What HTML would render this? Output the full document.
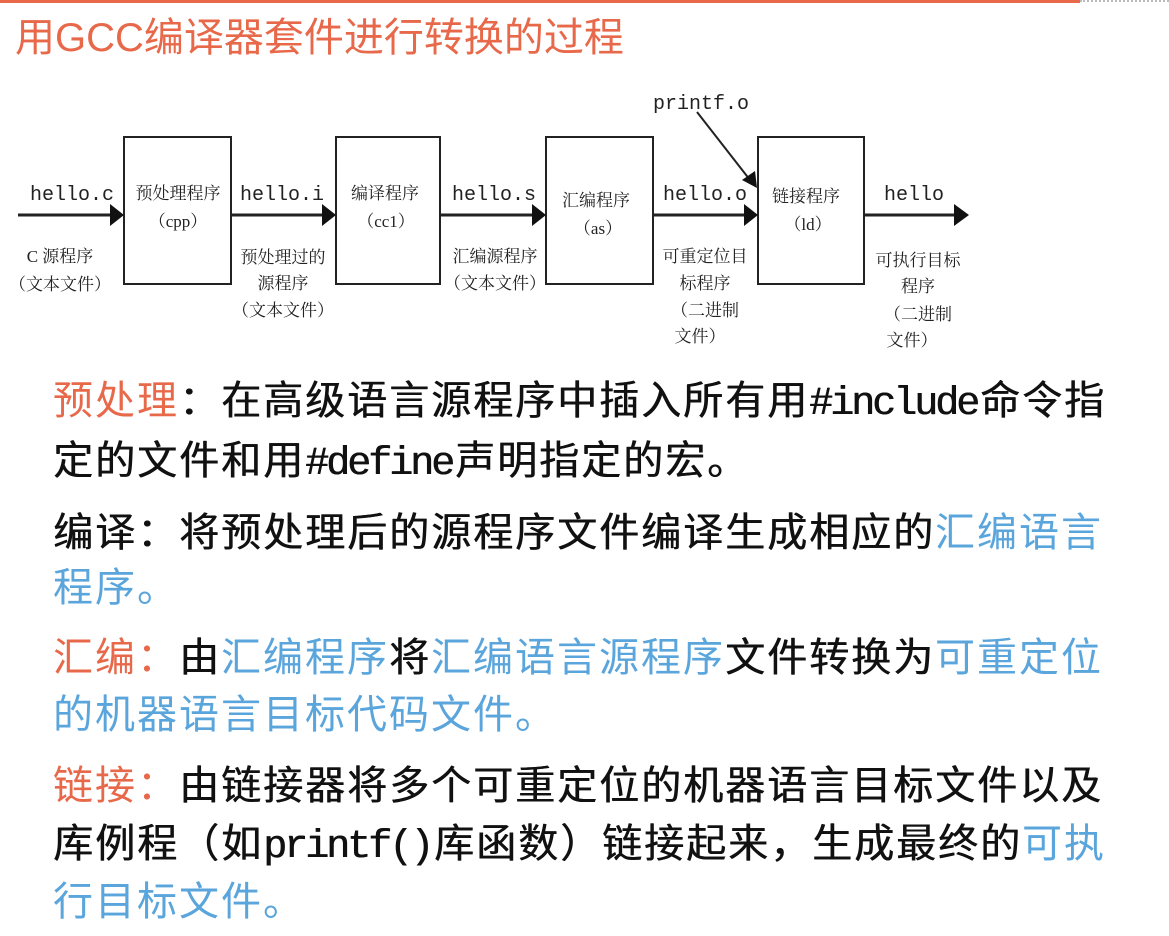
<!DOCTYPE html>
<html><head><meta charset="utf-8"><style>
body{margin:0;width:1169px;height:936px;background:#fff;position:relative;overflow:hidden}
.topbar{position:absolute;left:0;top:0;width:1080px;height:3px;background:#e8684a}
.dots{position:absolute;left:1080px;top:0;width:89px;border-top:2px dotted #bbb}
.title{position:absolute;left:15px;top:11px;font:40px/54px "Liberation Sans","Noto Sans CJK SC",sans-serif;color:#e8684a;white-space:nowrap}
.ln{position:absolute;left:53px;font-size:40px;line-height:50px;letter-spacing:2px;white-space:nowrap;color:#111;font-family:"Liberation Mono","WenQuanYi Zen Hei",monospace;text-shadow:0.6px 0 0 #111}
.ln .l{letter-spacing:-3px;margin-right:3px}
.o{color:#e8684a;text-shadow:none}.b{color:#5aa5dc;text-shadow:none}
svg text{font-family:"Liberation Serif","Noto Serif CJK SC",serif}
</style></head><body>
<div class="topbar"></div><div class="dots"></div>
<div class="title">用GCC编译器套件进行转换的过程</div>
<svg width="1169" height="360" style="position:absolute;left:0;top:0">
<g fill="none" stroke="#222" stroke-width="2">
<rect x="124" y="137" width="107" height="147"/>
<rect x="336" y="137" width="104" height="147"/>
<rect x="546" y="137" width="107" height="147"/>
<rect x="758" y="137" width="106" height="147"/>
<line x1="18" y1="215" x2="112" y2="215" stroke-width="3"/>
<line x1="231" y1="215" x2="324" y2="215" stroke-width="3"/>
<line x1="440" y1="215" x2="534" y2="215" stroke-width="3"/>
<line x1="653" y1="215" x2="746" y2="215" stroke-width="3"/>
<line x1="864" y1="215" x2="956" y2="215" stroke-width="3"/>
<line x1="697" y1="112" x2="750" y2="180" stroke-width="2"/>
</g>
<g fill="#111">
<polygon points="110,204 124,215 110,226"/>
<polygon points="322,204 336,215 322,226"/>
<polygon points="532,204 546,215 532,226"/>
<polygon points="744,204 758,215 744,226"/>
<polygon points="954,204 969,215 954,226"/>
<polygon points="742,180 757,188 755,171"/>
</g>
<g font-size="20" fill="#222">
<text x="30" y="200" style="font-family:'Liberation Mono',monospace">hello.c</text>
<text x="240" y="200" style="font-family:'Liberation Mono',monospace">hello.i</text>
<text x="452" y="200" style="font-family:'Liberation Mono',monospace">hello.s</text>
<text x="663" y="200" style="font-family:'Liberation Mono',monospace">hello.o</text>
<text x="884" y="200" style="font-family:'Liberation Mono',monospace">hello</text>
<text x="653" y="109" style="font-family:'Liberation Mono',monospace">printf.o</text>
</g>
<g font-size="17" fill="#222" text-anchor="middle">
<text x="178" y="199">预处理程序</text><text x="178" y="227">（cpp）</text>
<text x="385" y="199">编译程序</text><text x="386" y="227">（cc1）</text>
<text x="596" y="206">汇编程序</text><text x="598" y="234">（as）</text>
<text x="806" y="202">链接程序</text><text x="808" y="230">（ld）</text>
<text x="60" y="262">C 源程序</text><text x="60" y="290">（文本文件）</text>
<text x="283" y="263">预处理过的</text><text x="283" y="289">源程序</text><text x="283" y="316">（文本文件）</text>
<text x="495" y="262">汇编源程序</text><text x="495" y="289">（文本文件）</text>
<text x="705" y="262">可重定位目</text><text x="705" y="289">标程序</text><text x="705" y="316">（二进制</text><text x="700" y="342">文件）</text>
<text x="918" y="266">可执行目标</text><text x="918" y="292">程序</text><text x="918" y="320">（二进制</text><text x="912" y="346">文件）</text>
</g>
</svg>
<div class="ln" style="top:380px"><span class="o">预处理</span>：在高级语言源程序中插入所有用<span class="l">#include</span>命令指</div>
<div class="ln" style="top:440px">定的文件和用<span class="l">#define</span>声明指定的宏。</div>
<div class="ln" style="top:512px">编译：将预处理后的源程序文件编译生成相应的<span class="b">汇编语言</span></div>
<div class="ln" style="top:567px"><span class="b">程序。</span></div>
<div class="ln" style="top:637px"><span class="o">汇编：</span>由<span class="b">汇编程序</span>将<span class="b">汇编语言源程序</span>文件转换为<span class="b">可重定位</span></div>
<div class="ln" style="top:694px"><span class="b">的机器语言目标代码文件。</span></div>
<div class="ln" style="top:765px"><span class="o">链接：</span>由链接器将多个可重定位的机器语言目标文件以及</div>
<div class="ln" style="top:823px">库例程（如<span class="l">printf()</span>库函数）链接起来，生成最终的<span class="b">可执</span></div>
<div class="ln" style="top:881px"><span class="b">行目标文件。</span></div>
</body></html>
